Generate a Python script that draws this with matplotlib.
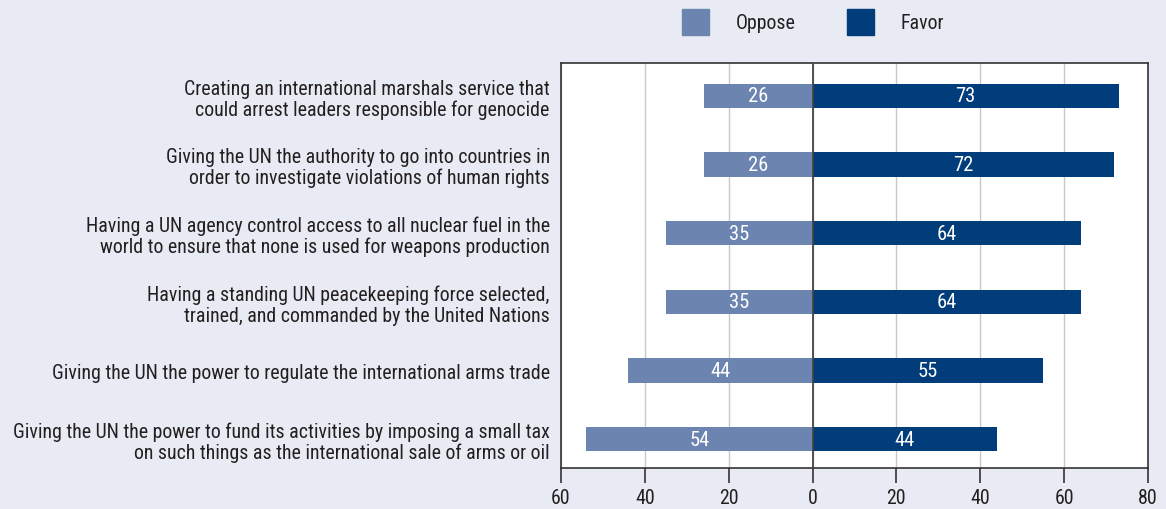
import matplotlib
matplotlib.use("Agg")
import matplotlib.pyplot as plt
from matplotlib import font_manager as fm
from matplotlib.patches import Patch

available = set(f.name for f in fm.fontManager.ttflist)
fam = "DejaVu Sans"
for cand in ["Nimbus Sans Narrow", "Liberation Sans Narrow", "Roboto Condensed", "Arial Narrow",
             "Archivo Narrow", "PT Sans Narrow", "Open Sans Condensed"]:
    if cand in available:
        fam = cand
        break
plt.rcParams['font.family'] = [fam, 'DejaVu Sans']

categories = [
    "Creating an international marshals service that\ncould arrest leaders responsible for genocide",
    "Giving the UN the authority to go into countries in\norder to investigate violations of human rights",
    "Having a UN agency control access to all nuclear fuel in the\nworld to ensure that none is used for weapons production",
    "Having a standing UN peacekeeping force selected,\ntrained, and commanded by the United Nations",
    "Giving the UN the power to regulate the international arms trade",
    "Giving the UN the power to fund its activities by imposing a small tax\non such things as the international sale of arms or oil",
]
oppose = [26, 26, 35, 35, 44, 54]
favor = [73, 72, 64, 64, 55, 44]
xticks = [-60, -40, -20, 0, 20, 40, 60, 80]
xticklabels = ["60", "40", "20", "0", "20", "40", "60", "80"]

c_opp = "#6b84b0"
c_fav = "#003d7a"
bg = "#e8ebf3"
txt = "#231f20"
spine_c = "#333333"

fig = plt.figure(figsize=(11.66, 5.10), dpi=100, facecolor=bg)

# fit font size so that the longest label line spans ~540 px like the reference
renderer = fig.canvas.get_renderer()
probe = fig.text(0, 0, "Giving the UN the power to fund its activities by imposing a small tax", fontsize=14)
w = probe.get_window_extent(renderer).width
probe.remove()
fs = min(16, 14 * 540.0 / w)

ax = fig.add_axes([0.4811, 0.0804, 0.5034, 0.7941])
ax.set_facecolor("white")

y = list(range(len(categories)))
h = 0.355
ax.barh(y, [-v for v in oppose], height=h, color=c_opp, zorder=3, label="Oppose")
ax.barh(y, favor, height=h, color=c_fav, zorder=3, label="Favor")
for yi, v in zip(y, oppose):
    ax.text(-v / 2, yi, str(v), color="white", ha="center", va="center", fontsize=fs * 1.03, zorder=4)
for yi, v in zip(y, favor):
    ax.text(v / 2, yi, str(v), color="white", ha="center", va="center", fontsize=fs * 1.03, zorder=4)

ax.set_xlim(-60, 80)
ax.set_ylim(5.42, -0.48)
ax.set_xticks(xticks)
ax.set_xticklabels(xticklabels, fontsize=fs, color=txt)
ax.set_yticks(y)
ax.set_yticklabels(categories, fontsize=fs, color=txt, linespacing=1.1)
ax.tick_params(axis="y", length=0, pad=8)
ax.tick_params(axis="x", length=10.5, width=1.2, color=spine_c, pad=4, direction="out")
ax.grid(axis="x", color="#c8c8c8", linewidth=1, zorder=0)
ax.axvline(0, color="#444444", linewidth=1.3, zorder=5)
for s in ["left", "right", "top", "bottom"]:
    ax.spines[s].set_color(spine_c)
    ax.spines[s].set_linewidth(1.2)

fig.legend(handles=[Patch(color=c_opp, label="Oppose"), Patch(color=c_fav, label="Favor")],
           loc="center left", bbox_to_anchor=(0.5695, 0.955), ncol=2, frameon=False,
           fontsize=fs, handlelength=1.35, handleheight=1.6, handletextpad=1.35,
           columnspacing=2.6, labelcolor=txt)

fig.savefig("out.png", dpi=100, facecolor=bg)
